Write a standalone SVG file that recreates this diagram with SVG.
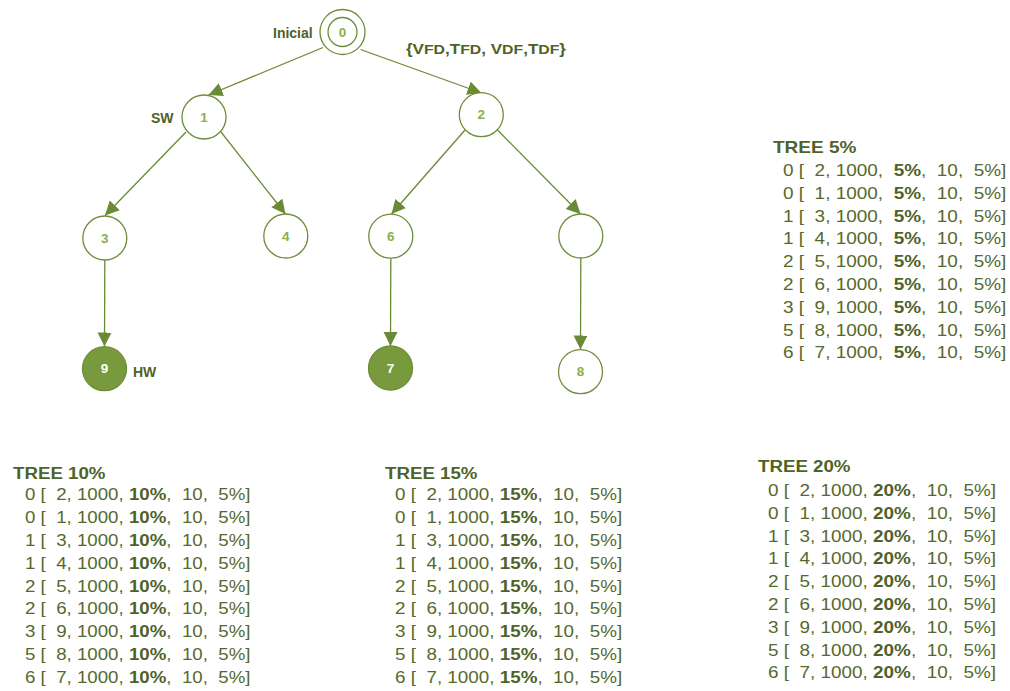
<svg xmlns="http://www.w3.org/2000/svg" width="1010" height="691" viewBox="0 0 1010 691">
<style>
.nd{fill:#ffffff;stroke:#6E8D3A;stroke-width:1.3}
.fl{fill:#789A3D;stroke:#6E8D3A;stroke-width:1.3}
.nl{font-family:"Liberation Sans",Arial,sans-serif;font-weight:bold;font-size:13.5px;fill:#8CAF4B;text-anchor:middle}
.wl{font-family:"Liberation Sans",Arial,sans-serif;font-weight:bold;font-size:13.5px;fill:#ffffff;text-anchor:middle}
.lb{font-family:"Liberation Sans",Arial,sans-serif;font-weight:bold;font-size:14px;fill:#4F6228}
.ed{stroke:#6A8A35;stroke-width:1.3;fill:none;marker-end:url(#ah)}
.tt{font-family:"Liberation Sans",Arial,sans-serif;font-weight:bold;font-size:17px;fill:#4F6228}
.rw{font-family:"Liberation Sans",Arial,sans-serif;font-size:17px;fill:#56692C;white-space:pre}
.rw tspan{font-weight:bold;fill:#4F6228}
</style>
<defs>
<marker id="ah" markerUnits="userSpaceOnUse" markerWidth="15" markerHeight="15" refX="14" refY="7" orient="auto">
<path d="M0,0 L14,7 L0,14 z" fill="#6A8A35"/>
</marker>
</defs>
<g id="connectors">
<line class="ed" x1="323" y1="47.5" x2="208.5" y2="95"/>
<line class="ed" x1="360.5" y1="49.5" x2="481.5" y2="93"/>
<line class="ed" x1="186" y1="132" x2="105" y2="215.5"/>
<line class="ed" x1="221" y1="132" x2="285.5" y2="214"/>
<line class="ed" x1="465" y1="130" x2="391.5" y2="214"/>
<line class="ed" x1="497.5" y1="130" x2="580.5" y2="214"/>
<line class="ed" x1="104.8" y1="260" x2="104.5" y2="346.5"/>
<line class="ed" x1="390.8" y1="258.5" x2="390.5" y2="346"/>
<line class="ed" x1="580.8" y1="258.5" x2="580.5" y2="349.5"/>
</g>
<g id="node0">
<circle class="nd" cx="342.5" cy="32" r="22.5"/>
<circle class="nd" cx="342.5" cy="32" r="14.5"/>
<text class="nl" x="342.5" y="36.5">0</text>
<text class="lb" x="273" y="37.5">Inicial</text>
</g>
<g id="label-params">
<text class="lb" x="406" y="53.5" font-size="19" textLength="160" lengthAdjust="spacingAndGlyphs">{V<tspan font-size="13">FD</tspan>,T<tspan font-size="13">FD</tspan>, V<tspan font-size="13">DF</tspan>,T<tspan font-size="13">DF</tspan>}</text>
</g>
<g id="node1">
<circle class="nd" cx="204" cy="117" r="22"/>
<text class="nl" x="204" y="121.5">1</text>
<text class="lb" x="151" y="122.5">SW</text>
</g>
<g id="node2">
<circle class="nd" cx="481.3" cy="114.7" r="22"/>
<text class="nl" x="481.3" y="119.2">2</text>
</g>
<g id="node3">
<circle class="nd" cx="104.8" cy="238" r="22"/>
<text class="nl" x="104.8" y="242.5">3</text>
</g>
<g id="node4">
<circle class="nd" cx="285.8" cy="236" r="22"/>
<text class="nl" x="285.8" y="240.5">4</text>
</g>
<g id="node6">
<circle class="nd" cx="390.8" cy="236.2" r="22"/>
<text class="nl" x="390.8" y="240.7">6</text>
</g>
<g id="node5">
<circle class="nd" cx="580.8" cy="236" r="22"/>
</g>
<g id="node9">
<circle class="fl" cx="104.5" cy="368.7" r="22"/>
<text class="wl" x="104.5" y="373.2">9</text>
<text class="lb" x="133" y="376.5">HW</text>
</g>
<g id="node7">
<circle class="fl" cx="390.5" cy="368" r="22"/>
<text class="wl" x="390.5" y="372.5">7</text>
</g>
<g id="node8">
<circle class="nd" cx="580.5" cy="371.7" r="22"/>
<text class="nl" x="580.5" y="376.2">8</text>
</g>
<g id="tree5">
<g transform="translate(773,0) scale(1.12,1)"><text class="tt" x="0" y="153">TREE 5%</text></g>
<g transform="translate(783,0) scale(1.115,1)">
<text class="rw" x="0" y="176">0 [  2, 1000,  <tspan>5%</tspan>,  10,  5%]</text>
<text class="rw" x="0" y="198.8">0 [  1, 1000,  <tspan>5%</tspan>,  10,  5%]</text>
<text class="rw" x="0" y="221.6">1 [  3, 1000,  <tspan>5%</tspan>,  10,  5%]</text>
<text class="rw" x="0" y="244.4">1 [  4, 1000,  <tspan>5%</tspan>,  10,  5%]</text>
<text class="rw" x="0" y="267.2">2 [  5, 1000,  <tspan>5%</tspan>,  10,  5%]</text>
<text class="rw" x="0" y="290">2 [  6, 1000,  <tspan>5%</tspan>,  10,  5%]</text>
<text class="rw" x="0" y="312.8">3 [  9, 1000,  <tspan>5%</tspan>,  10,  5%]</text>
<text class="rw" x="0" y="335.6">5 [  8, 1000,  <tspan>5%</tspan>,  10,  5%]</text>
<text class="rw" x="0" y="358.4">6 [  7, 1000,  <tspan>5%</tspan>,  10,  5%]</text>
</g>
</g>
<g id="tree10">
<g transform="translate(13,0) scale(1.1,1)"><text class="tt" x="0" y="479.5">TREE 10%</text></g>
<g transform="translate(25,0) scale(1.1,1)">
<text class="rw" x="0" y="500">0 [  2, 1000, <tspan>10%</tspan>,  10,  5%]</text>
<text class="rw" x="0" y="522.9">0 [  1, 1000, <tspan>10%</tspan>,  10,  5%]</text>
<text class="rw" x="0" y="545.8">1 [  3, 1000, <tspan>10%</tspan>,  10,  5%]</text>
<text class="rw" x="0" y="568.7">1 [  4, 1000, <tspan>10%</tspan>,  10,  5%]</text>
<text class="rw" x="0" y="591.6">2 [  5, 1000, <tspan>10%</tspan>,  10,  5%]</text>
<text class="rw" x="0" y="614.5">2 [  6, 1000, <tspan>10%</tspan>,  10,  5%]</text>
<text class="rw" x="0" y="637.4">3 [  9, 1000, <tspan>10%</tspan>,  10,  5%]</text>
<text class="rw" x="0" y="660.3">5 [  8, 1000, <tspan>10%</tspan>,  10,  5%]</text>
<text class="rw" x="0" y="683.2">6 [  7, 1000, <tspan>10%</tspan>,  10,  5%]</text>
</g>
</g>
<g id="tree15">
<g transform="translate(385,0) scale(1.1,1)"><text class="tt" x="0" y="479.5">TREE 15%</text></g>
<g transform="translate(395,0) scale(1.108,1)">
<text class="rw" x="0" y="500">0 [  2, 1000, <tspan>15%</tspan>,  10,  5%]</text>
<text class="rw" x="0" y="522.9">0 [  1, 1000, <tspan>15%</tspan>,  10,  5%]</text>
<text class="rw" x="0" y="545.8">1 [  3, 1000, <tspan>15%</tspan>,  10,  5%]</text>
<text class="rw" x="0" y="568.7">1 [  4, 1000, <tspan>15%</tspan>,  10,  5%]</text>
<text class="rw" x="0" y="591.6">2 [  5, 1000, <tspan>15%</tspan>,  10,  5%]</text>
<text class="rw" x="0" y="614.5">2 [  6, 1000, <tspan>15%</tspan>,  10,  5%]</text>
<text class="rw" x="0" y="637.4">3 [  9, 1000, <tspan>15%</tspan>,  10,  5%]</text>
<text class="rw" x="0" y="660.3">5 [  8, 1000, <tspan>15%</tspan>,  10,  5%]</text>
<text class="rw" x="0" y="683.2">6 [  7, 1000, <tspan>15%</tspan>,  10,  5%]</text>
</g>
</g>
<g id="tree20">
<g transform="translate(758,0) scale(1.1,1)"><text class="tt" x="0" y="472.5">TREE 20%</text></g>
<g transform="translate(768,0) scale(1.113,1)">
<text class="rw" x="0" y="496">0 [  2, 1000, <tspan>20%</tspan>,  10,  5%]</text>
<text class="rw" x="0" y="518.8">0 [  1, 1000, <tspan>20%</tspan>,  10,  5%]</text>
<text class="rw" x="0" y="541.6">1 [  3, 1000, <tspan>20%</tspan>,  10,  5%]</text>
<text class="rw" x="0" y="564.4">1 [  4, 1000, <tspan>20%</tspan>,  10,  5%]</text>
<text class="rw" x="0" y="587.2">2 [  5, 1000, <tspan>20%</tspan>,  10,  5%]</text>
<text class="rw" x="0" y="610">2 [  6, 1000, <tspan>20%</tspan>,  10,  5%]</text>
<text class="rw" x="0" y="632.8">3 [  9, 1000, <tspan>20%</tspan>,  10,  5%]</text>
<text class="rw" x="0" y="655.6">5 [  8, 1000, <tspan>20%</tspan>,  10,  5%]</text>
<text class="rw" x="0" y="678.4">6 [  7, 1000, <tspan>20%</tspan>,  10,  5%]</text>
</g>
</g>
</svg>
